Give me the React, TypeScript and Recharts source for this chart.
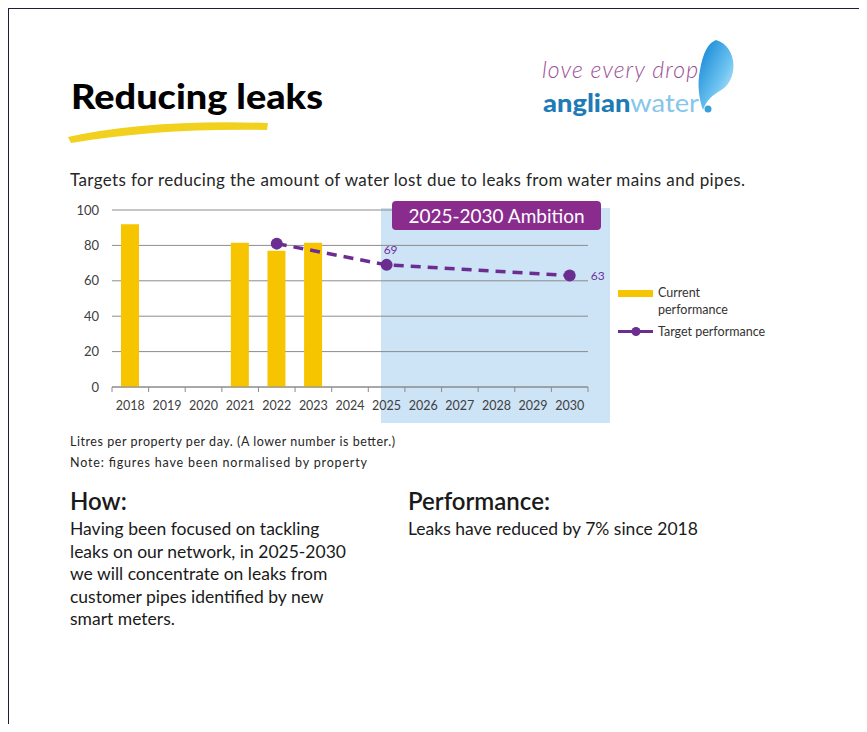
import React from 'react';
import {
  ComposedChart,
  Bar,
  Line,
  XAxis,
  YAxis,
  CartesianGrid,
  Legend,
  LabelList,
} from 'recharts';

const years = ['2018', '2019', '2020', '2021', '2022', '2023', '2024', '2025', '2026', '2027', '2028', '2029', '2030'];
const currentPerformance = [92, null, null, 81.5, 77, 81.5, null, null, null, null, null, null, null];
const targetPerformance = [null, null, null, null, 81, null, null, 69, null, null, null, null, 63];
const targetLabels = ['', '', '', '', '', '', '', '69', '', '', '', '', '63'];
const yTicks = [0, 20, 40, 60, 80, 100];

const howLines = [
  'Having been focused on tackling',
  'leaks on our network, in 2025-2030',
  'we will concentrate on leaks from',
  'customer pipes identified  by new',
  'smart meters.',
];

const data = years.map((year, i) => ({
  year,
  current: currentPerformance[i],
  target: targetPerformance[i],
  targetLabel: targetLabels[i],
}));

const FONT = 'Lato, "Open Sans", sans-serif';
const YELLOW = '#f6c500';
const PURPLE = '#6b2d90';

// chart box, page coordinates
const CHART_LEFT = 60;
const CHART_TOP = 190;
const CHART_W = 560;
const CHART_H = 240;
const MARGIN = { top: 20, right: 32, bottom: 13, left: 0 };
const Y_AXIS_W = 52;
const PLOT_W = CHART_W - MARGIN.left - MARGIN.right - Y_AXIS_W;
const BAND = PLOT_W / years.length;

const YearTick = (props: any) => {
  const { x, y, payload, index } = props;
  const axisY = y - 14;
  return (
    <g>
      <line x1={x - BAND / 2} x2={x - BAND / 2} y1={axisY} y2={axisY + 5} stroke="#8c8c8c" />
      {index === years.length - 1 && (
        <line x1={x + BAND / 2} x2={x + BAND / 2} y1={axisY} y2={axisY + 5} stroke="#8c8c8c" />
      )}
      <text x={x} y={y} dy="0.71em" textAnchor="middle" fill="#404040" fontSize={12.5} fontFamily={FONT}>
        {payload.value}
      </text>
    </g>
  );
};

const TargetLabel = (props: any) => {
  const { x, y, value, index } = props;
  if (!value) return null;
  const last = index === years.length - 1;
  return (
    <text
      x={last ? x + 21 : x + 4}
      y={last ? y : y - 15}
      textAnchor={last ? 'start' : 'middle'}
      dominantBaseline="central"
      fill="#7030a0"
      fontSize={12}
      fontFamily={FONT}
    >
      {value}
    </text>
  );
};

const LegendContent = (props: any) => {
  const { payload } = props;
  return (
    <div style={{ fontFamily: FONT, fontSize: 12.5, color: '#333' }}>
      {(payload || []).map((entry: any, i: number) => (
        <div key={i} style={{ display: 'flex', alignItems: 'flex-start', marginTop: i === 0 ? 0 : 4.5 }}>
          <svg width={40} height={17} style={{ flex: 'none' }}>
            {entry.type === 'rect' ? (
              <rect x={0} y={6} width={35} height={7} fill={entry.color} />
            ) : (
              <g>
                <line x1={0} x2={35} y1={8.5} y2={8.5} stroke={entry.color} strokeWidth={3} />
                <circle cx={18} cy={8.5} r={4.5} fill={entry.color} />
              </g>
            )}
          </svg>
          <span style={{ lineHeight: '17px', width: entry.type === 'rect' ? 80 : 140 }}>{entry.value}</span>
        </div>
      ))}
    </div>
  );
};

const LeaksChart = () => (
  <ComposedChart width={CHART_W} height={CHART_H} data={data} margin={MARGIN}>
    <CartesianGrid vertical={false} stroke="#8c8c8c" />
    <XAxis
      dataKey="year"
      height={30}
      axisLine={{ stroke: '#8c8c8c' }}
      tickLine={false}
      tickSize={6}
      tickMargin={8}
      interval={0}
      tick={<YearTick />}
    />
    <YAxis
      width={Y_AXIS_W}
      domain={[0, 100]}
      ticks={yTicks}
      axisLine={false}
      tickLine={false}
      tickMargin={7}
      tick={{ fill: '#404040', fontSize: 13, fontFamily: FONT }}
    />
    <Legend
      layout="vertical"
      align="center"
      verticalAlign="middle"
      wrapperStyle={{ left: 558, top: 94, width: 200 }}
      content={<LegendContent />}
    />
    <Bar
      dataKey="current"
      name="Current performance"
      fill={YELLOW}
      barSize={18}
      legendType="rect"
      isAnimationActive={false}
    />
    <Line
      dataKey="target"
      name="Target performance"
      stroke={PURPLE}
      strokeWidth={3.5}
      strokeDasharray="10 7"
      connectNulls
      dot={{ r: 6, fill: PURPLE, stroke: 'none' }}
      legendType="line"
      isAnimationActive={false}
    >
      <LabelList dataKey="targetLabel" content={<TargetLabel />} />
    </Line>
  </ComposedChart>
);

const App = () => {
  return (
    <div style={{ position: 'relative', width: 867, height: 732, margin: -8, background: '#fff', overflow: 'hidden' }}>
      {/* frame */}
      <div style={{ position: 'absolute', left: 7, top: 7, width: 860, height: 2, background: '#1b1f3b' }} />
      <div style={{ position: 'absolute', left: 7, top: 7, width: 2, height: 725, background: '#1b1f3b' }} />

      {/* 2025-2030 shading */}
      <div style={{ position: 'absolute', left: 381, top: 208, width: 229, height: 215, background: '#cde3f6' }} />

      <div style={{ position: 'absolute', left: CHART_LEFT, top: CHART_TOP, width: CHART_W, height: CHART_H }}>
        <LeaksChart />
      </div>

      <div
        style={{
          position: 'absolute',
          left: 392,
          top: 201,
          width: 209,
          height: 29,
          background: '#8a2c8e',
          borderRadius: 4,
          color: '#fff',
          fontFamily: FONT,
          fontSize: 19,
          lineHeight: '29px',
          textAlign: 'center',
        }}
      >
        2025-2030 Ambition
      </div>

      <svg width={867} height={732} style={{ position: 'absolute', left: 0, top: 0, pointerEvents: 'none' }}>
        <defs>
          <linearGradient id="dropGrad" x1="0" y1="0" x2="1" y2="1">
            <stop offset="0%" stopColor="#0a7fd2" />
            <stop offset="60%" stopColor="#6cc3f0" />
            <stop offset="100%" stopColor="#e3f4fd" />
          </linearGradient>
        </defs>

        <text
          x={71}
          y={109}
          fontFamily={FONT}
          fontWeight={900}
          fontSize={35}
          fill="#000"
          textLength={252}
          lengthAdjust="spacingAndGlyphs"
        >
          Reducing leaks
        </text>
        <path d="M68,137 Q150,119 268,123 L267,130 Q160,128 71,143 Z" fill="#f2d11e" />

        {/* logo */}
        <text x={542} y={78} fontFamily={FONT} fontWeight={300} fontStyle="italic" fontSize={23} fill="#9c4f97" textLength={156}>
          love every drop
        </text>
        <text
          x={543}
          y={112}
          fontFamily={FONT}
          fontWeight={900}
          fontSize={25}
          textLength={156}
          lengthAdjust="spacingAndGlyphs"
        >
          <tspan fill="#1f7bb6">anglian</tspan>
          <tspan fill="#86c6ea" fontWeight={400}>water</tspan>
        </text>
        <circle cx={708} cy={109} r={3.5} fill="#3aa0dc" />
        <path
          d="M716,40 C738,46 740,82 718,92 C710,97 706,102 703,110 C699,99 697,84 700,70 C703,53 708,43 716,40 Z"
          fill="url(#dropGrad)"
        />

        <text x={70} y={186} fontFamily={FONT} fontSize={17} fill="#262626" textLength={675}>
          Targets for reducing the amount of water lost due to leaks from water mains and pipes.
        </text>

        <text x={70} y={446} fontFamily={FONT} fontSize={12.5} fill="#262626" textLength={325}>
          Litres per property per day. (A lower number is better.)
        </text>
        <text x={70} y={467} fontFamily={FONT} fontSize={12.5} fill="#262626" textLength={297}>
          Note: figures have been normalised by property
        </text>

        <text x={70} y={510} fontFamily={FONT} fontWeight={600} fontSize={24} fill="#1a1a1a">
          How:
        </text>
        <text x={408} y={510} fontFamily={FONT} fontWeight={600} fontSize={24} fill="#1a1a1a">
          Performance:
        </text>

        {howLines.map((line, i) => (
          <text key={i} x={70} y={535 + i * 22.6} fontFamily={FONT} fontSize={17.5} fill="#1a1a1a">
            {line}
          </text>
        ))}
        <text x={408} y={535} fontFamily={FONT} fontSize={17.5} fill="#1a1a1a">
          Leaks have reduced by 7% since 2018
        </text>
      </svg>
    </div>
  );
};

export default App;
